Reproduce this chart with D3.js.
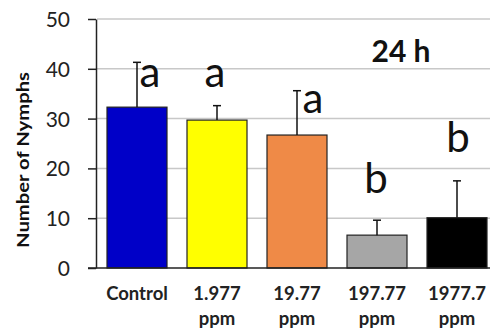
<!DOCTYPE html>
<html>
<head>
<meta charset="utf-8">
<script src="https://cdn.jsdelivr.net/npm/d3@7"></script>
<style>
  html, body { margin: 0; padding: 0; background: #fff; }
  svg { display: block; }
</style>
</head>
<body>
<svg id="chart" width="490" height="329"></svg>
<script>
// Nymph counts after 24 h exposure, mean with standard deviation
const categories = ["Control", "1.977 ppm", "19.77 ppm", "197.77 ppm", "1977.7 ppm"];
const means = [32.3, 29.7, 26.7, 6.6, 10.1];
const errors = [9.0, 2.9, 8.9, 3.0, 7.4];
const groups = ["a", "a", "a", "b", "b"];
const colors = ["#0000c8", "#ffff00", "#ef8a47", "#a6a6a6", "#000000"];
const yTicks = [0, 10, 20, 30, 40, 50];
const yTitle = "Number of Nymphs";
const panelTitle = "24 h";

const svg = d3.select("#chart");
const font = "Lato, 'Open Sans', sans-serif";

const x = d3.scaleBand()
  .domain(categories)
  .range([97, 497])
  .paddingInner(0.25)
  .paddingOuter(0.125);

const y = d3.scaleLinear().domain([0, 50]).range([268, 19]);

// horizontal gridlines
svg.append("g")
  .selectAll("line")
  .data(yTicks.filter(t => t > 0))
  .join("line")
  .attr("x1", 97).attr("x2", 490)
  .attr("y1", d => y(d)).attr("y2", d => y(d))
  .attr("stroke", "#c8c8c8")
  .attr("stroke-width", 1.5);

// y axis
const yAxis = svg.append("g")
  .attr("transform", "translate(96,0)")
  .call(d3.axisLeft(y).tickValues(yTicks).tickSize(8).tickPadding(18).tickSizeOuter(0));
yAxis.select(".domain").attr("stroke", "#222").attr("stroke-width", 1.5);
yAxis.selectAll(".tick line").attr("stroke", "#222").attr("stroke-width", 1.5);
yAxis.selectAll(".tick text")
  .attr("font-family", font)
  .attr("font-size", 21)
  .attr("fill", "#222")
  .attr("dy", "0.36em");

// bars
svg.append("g")
  .selectAll("rect")
  .data(categories)
  .join("rect")
  .attr("x", d => x(d))
  .attr("y", (d, i) => y(means[i]))
  .attr("width", x.bandwidth())
  .attr("height", (d, i) => y(0) - y(means[i]))
  .attr("fill", (d, i) => colors[i])
  .attr("stroke", "#222")
  .attr("stroke-width", 1.2);

// baseline
svg.append("line")
  .attr("x1", 88).attr("x2", 490)
  .attr("y1", y(0)).attr("y2", y(0))
  .attr("stroke", "#222").attr("stroke-width", 1.5);

// upper error bars
const eb = svg.append("g").attr("stroke", "#111").attr("stroke-width", 1.5);
categories.forEach((c, i) => {
  const cx = x(c) + x.bandwidth() / 2;
  eb.append("line")
    .attr("x1", cx).attr("x2", cx)
    .attr("y1", y(means[i])).attr("y2", y(means[i] + errors[i]));
  eb.append("line")
    .attr("x1", cx - 4).attr("x2", cx + 4)
    .attr("y1", y(means[i] + errors[i])).attr("y2", y(means[i] + errors[i]));
});

// significance letters: horizontal offset from bar centre, baseline in axis units
const letterPos = [
  { dx: 13, v: 36.3 },
  { dx: -2, v: 36.3 },
  { dx: 16, v: 31.1 },
  { dx: -1, v: 15.05 },
  { dx: 1, v: 23.3 }
];
svg.append("g")
  .selectAll("text")
  .data(categories)
  .join("text")
  .attr("x", (d, i) => x(d) + x.bandwidth() / 2 + letterPos[i].dx)
  .attr("y", (d, i) => y(letterPos[i].v))
  .attr("text-anchor", "middle")
  .attr("font-family", font)
  .attr("font-size", 42)
  .attr("fill", "#111")
  .text((d, i) => groups[i]);

// category labels on two lines
const xl = svg.append("g")
  .selectAll("text")
  .data(categories)
  .join("text")
  .attr("x", d => x(d) + x.bandwidth() / 2)
  .attr("y", 300)
  .attr("text-anchor", "middle")
  .attr("font-family", font)
  .attr("font-weight", "bold")
  .attr("font-size", 18.5)
  .attr("fill", "#222");
xl.each(function(d) {
  const parts = d.split(" ");
  const t = d3.select(this);
  parts.forEach((p, k) => {
    t.append("tspan")
      .attr("x", x(d) + x.bandwidth() / 2)
      .attr("dy", k === 0 ? 0 : 25)
      .text(p);
  });
});

// y axis title
svg.append("text")
  .attr("transform", "translate(28.5,160) rotate(-90)")
  .attr("text-anchor", "middle")
  .attr("font-family", font)
  .attr("font-weight", "bold")
  .attr("font-size", 17)
  .attr("textLength", 176)
  .attr("lengthAdjust", "spacingAndGlyphs")
  .attr("fill", "#111")
  .text(yTitle);

// panel title
svg.append("text")
  .attr("x", 401)
  .attr("y", 62)
  .attr("text-anchor", "middle")
  .attr("font-family", font)
  .attr("font-weight", "bold")
  .attr("font-size", 30)
  .attr("fill", "#111")
  .text(panelTitle);
</script>
</body>
</html>
